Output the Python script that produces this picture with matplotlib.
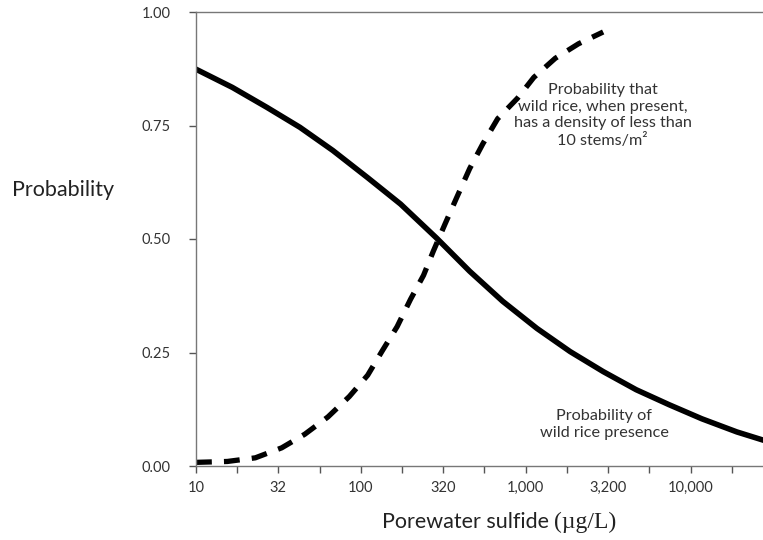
import numpy as np
import matplotlib.pyplot as plt

# sulfide concentration (ug/L) and probability of wild rice presence (solid line)
sulfuro = [10, 16.6, 26.9, 42.7, 67.6, 110, 174, 288, 457, 724, 1170, 1860, 2950, 4680, 7410, 11700, 19100, 27000]
p_presencia = [0.874, 0.834, 0.79, 0.746, 0.695, 0.635, 0.577, 0.502, 0.429, 0.363, 0.303, 0.252, 0.208, 0.168, 0.135, 0.104, 0.075, 0.058]

# probability of density < 10 stems/m2 when present (dashed line)
sulfuro_dens = [10, 15.5, 22.9, 33.1, 45.7, 63.1, 85.1, 110, 135, 166, 200, 240, 275, 324, 380, 457, 550, 676, 891, 1120, 1510, 2090, 2950]
p_densidad = [0.008, 0.01, 0.018, 0.04, 0.07, 0.108, 0.153, 0.20, 0.254, 0.307, 0.367, 0.42, 0.473, 0.533, 0.59, 0.655, 0.71, 0.765, 0.81, 0.856, 0.898, 0.93, 0.956]

# ticks cada cuarto de decada, etiqueta solo en medias decadas
marcas = [10, 17.8, 31.6, 56.2, 100, 178, 316, 562, 1000, 1780, 3160, 5620, 10000, 17800]
etiquetas = ['10', '', '32', '', '100', '', '320', '', '1,000', '', '3,200', '', '10,000', '']
marcas_y = [0, 0.25, 0.5, 0.75, 1.0]
etiquetas_y = ['0.00', '0.25', '0.50', '0.75', '1.00']

fuente = 'Lato'
gris = '#333333'

fig = plt.figure(figsize=(7.63, 5.40), dpi=100)
ax = fig.add_axes([196/763, 1-466/540, 1-196/763, 454/540])

ax.plot(sulfuro, p_presencia, color='black', lw=4.0, solid_joinstyle='round')
ax.plot(sulfuro_dens, p_densidad, color='black', lw=3.8, dashes=(3.0, 2.3))

ax.set_xscale('log')
ax.set_xlim(10, 27500)
ax.set_ylim(0, 1.0)

ax.set_xticks(marcas)
ax.set_xticklabels(etiquetas, fontsize=10.5, family=fuente, color=gris)
ax.xaxis.set_minor_locator(plt.NullLocator())
ax.set_yticks(marcas_y)
ax.set_yticklabels(etiquetas_y, fontsize=10.5, family=fuente, color=gris)
ax.tick_params(axis='both', length=5, width=1, color='#555555', direction='out')
ax.tick_params(axis='x', pad=6)
ax.tick_params(axis='y', pad=13)

for lado in ['left', 'top', 'bottom']:
    ax.spines[lado].set_color('#777777')
    ax.spines[lado].set_linewidth(1)
ax.spines['right'].set_visible(False)

ax.text(2930, 0.772, 'Probability that\nwild rice, when present,\nhas a density of less than\n10 stems/m\u00b2',
        ha='center', va='center', fontsize=11.7, family=fuente, color=gris, linespacing=1.25)
ax.text(3000, 0.091, 'Probability of\nwild rice presence',
        ha='center', va='center', fontsize=11.7, family=fuente, color=gris, linespacing=1.25)

fig.text(12/763, 1-190/540, 'Probability', ha='left', va='center', fontsize=15.5, family=fuente, color='#222222')
fig.text(554/763, 1-522/540, 'Porewater sulfide ', ha='right', va='center', fontsize=15.5, family=fuente, color='#222222')
fig.text(554/763, 1-522/540, '(\u00b5g/L)', ha='left', va='center', fontsize=17, family='Liberation Serif', color='#222222')

fig.savefig('out.png', dpi=100)
